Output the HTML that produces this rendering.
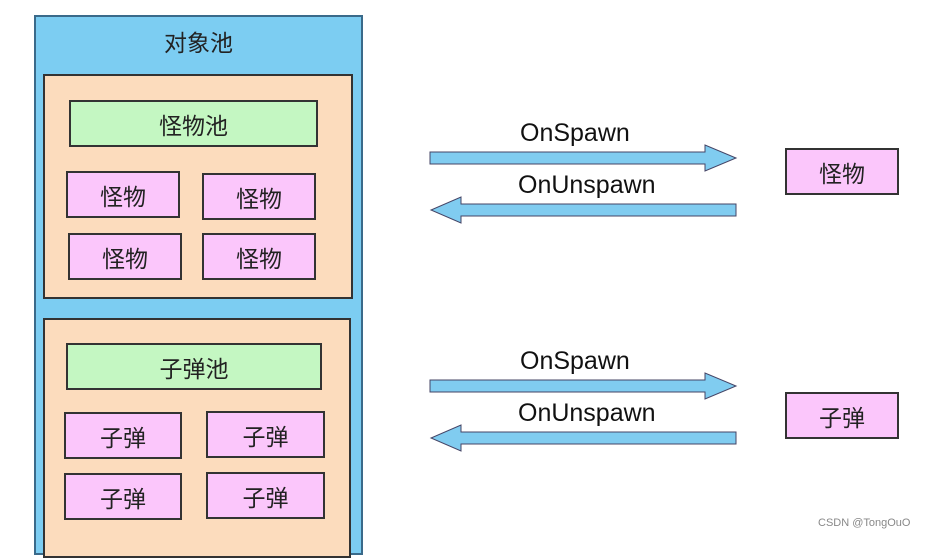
<!DOCTYPE html>
<html><head><meta charset="utf-8"><style>
body{margin:0;width:933px;height:540px;background:#fff;position:relative;overflow:hidden;font-family:"Liberation Sans","Noto Sans CJK SC",sans-serif}
.b{position:absolute;box-sizing:border-box;border:2px solid #333;display:flex;align-items:center;justify-content:center;font-size:23px;color:#222}
.p{background:#fbc6fb}
.g{background:#c4f7c2}
.t{position:absolute;font-size:25px;color:#111}
</style></head><body>
<div class="b" style="left:34px;top:15px;width:329px;height:540px;background:#7ccdf2;border-color:#3a6a8a;align-items:flex-start;padding-top:7px">对象池</div>
<div class="b" style="left:43px;top:74px;width:310px;height:225px;background:#fcdcbd"></div>
<div class="b g" style="left:69px;top:100px;width:249px;height:47px">怪物池</div>
<div class="b p" style="left:66px;top:171px;width:114px;height:47px">怪物</div>
<div class="b p" style="left:202px;top:173px;width:114px;height:47px">怪物</div>
<div class="b p" style="left:68px;top:233px;width:114px;height:47px">怪物</div>
<div class="b p" style="left:202px;top:233px;width:114px;height:47px">怪物</div>
<div class="b" style="left:43px;top:318px;width:308px;height:240px;background:#fcdcbd"></div>
<div class="b g" style="left:66px;top:343px;width:256px;height:47px">子弹池</div>
<div class="b p" style="left:64px;top:412px;width:118px;height:47px">子弹</div>
<div class="b p" style="left:206px;top:411px;width:119px;height:47px">子弹</div>
<div class="b p" style="left:64px;top:473px;width:118px;height:47px">子弹</div>
<div class="b p" style="left:206px;top:472px;width:119px;height:47px">子弹</div>
<div class="b p" style="left:785px;top:148px;width:114px;height:47px">怪物</div>
<div class="b p" style="left:785px;top:392px;width:114px;height:47px">子弹</div>
<svg width="933" height="540" style="position:absolute;left:0;top:0">
<g fill="#80ccf0" stroke="#446" stroke-width="1">
<polygon points="430,152 705,152 705,145 736,158 705,171 705,164 430,164"/>
<polygon points="736,204 461,204 461,197 431,210 461,223 461,216 736,216"/>
<polygon points="430,380 705,380 705,373 736,386 705,399 705,392 430,392"/>
<polygon points="736,432 461,432 461,425 431,438 461,451 461,444 736,444"/>
</g></svg>
<div class="t" style="left:520px;top:119px">OnSpawn</div>
<div class="t" style="left:518px;top:171px">OnUnspawn</div>
<div class="t" style="left:520px;top:347px">OnSpawn</div>
<div class="t" style="left:518px;top:399px">OnUnspawn</div>
<div style="position:absolute;left:818px;top:517px;font-size:11px;color:#888">CSDN @TongOuO</div>
</body></html>
